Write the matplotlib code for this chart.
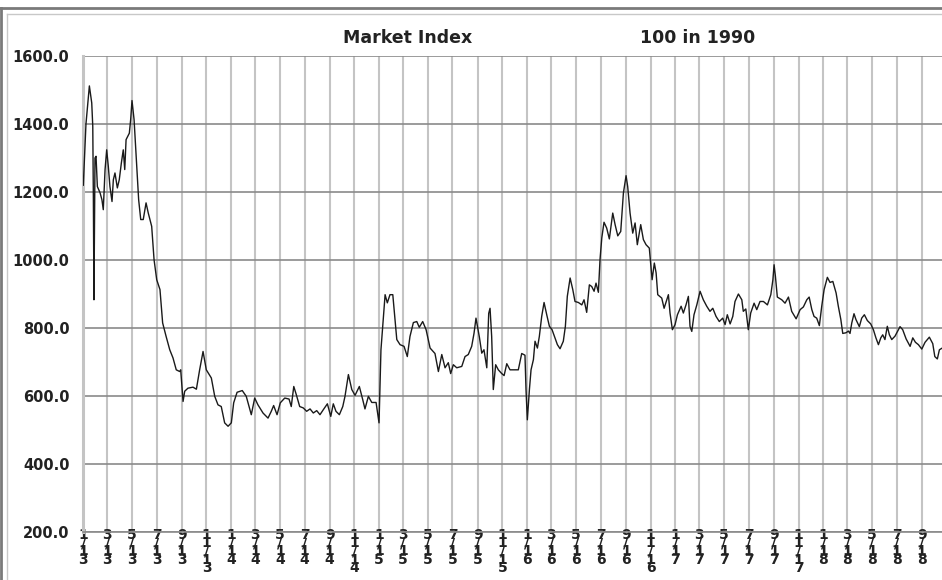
import numpy as np
import pandas as pd
import matplotlib
matplotlib.use("Agg")
import matplotlib.pyplot as plt
import matplotlib.dates as mdates
from matplotlib.lines import Line2D
from matplotlib.ticker import FormatStrFormatter

# time in years since 1 Jan 2013, index level
YEARS = [
    0.000, 0.018, 0.041, 0.057, 0.064, 0.068, 0.072, 0.079, 0.086, 0.095,
    0.113, 0.126, 0.135, 0.147, 0.158, 0.169, 0.180, 0.194, 0.203, 0.214,
    0.230, 0.243, 0.257, 0.270, 0.280, 0.289, 0.311, 0.320, 0.329, 0.343,
    0.361, 0.374, 0.388, 0.405, 0.424, 0.439, 0.462, 0.478, 0.496, 0.518,
    0.536, 0.559, 0.584, 0.606, 0.628, 0.651, 0.658, 0.674, 0.685, 0.707,
    0.741, 0.764, 0.786, 0.809, 0.831, 0.865, 0.888, 0.910, 0.932, 0.955,
    0.978, 1.000, 1.016, 1.039, 1.074, 1.101, 1.135, 1.158, 1.180, 1.214,
    1.248, 1.270, 1.286, 1.309, 1.331, 1.361, 1.390, 1.405, 1.422, 1.439,
    1.462, 1.486, 1.509, 1.532, 1.554, 1.577, 1.599, 1.622, 1.649, 1.672,
    1.689, 1.707, 1.730, 1.753, 1.768, 1.791, 1.814, 1.836, 1.865, 1.888,
    1.903, 1.926, 1.949, 1.978, 1.998, 2.011, 2.023, 2.039, 2.054, 2.072,
    2.091, 2.118, 2.140, 2.167, 2.189, 2.207, 2.230, 2.253, 2.270, 2.293,
    2.316, 2.343, 2.376, 2.399, 2.422, 2.444, 2.466, 2.482, 2.500, 2.523,
    2.557, 2.579, 2.601, 2.624, 2.640, 2.653, 2.676, 2.692, 2.707, 2.726,
    2.739, 2.748, 2.759, 2.770, 2.786, 2.804, 2.827, 2.843, 2.861, 2.883,
    2.910, 2.939, 2.962, 2.984, 2.991, 3.000, 3.014, 3.025, 3.041, 3.052,
    3.068, 3.081, 3.097, 3.113, 3.131, 3.149, 3.167, 3.187, 3.203, 3.221,
    3.243, 3.257, 3.270, 3.289, 3.307, 3.322, 3.345, 3.368, 3.383, 3.401,
    3.419, 3.435, 3.451, 3.464, 3.480, 3.491, 3.503, 3.518, 3.536, 3.554,
    3.577, 3.593, 3.611, 3.631, 3.649, 3.667, 3.678, 3.694, 3.712, 3.728,
    3.743, 3.766, 3.784, 3.802, 3.824, 3.843, 3.858, 3.870, 3.881, 3.908,
    3.924, 3.953, 3.964, 3.980, 3.998, 4.014, 4.039, 4.054, 4.072, 4.088,
    4.099, 4.111, 4.126, 4.145, 4.167, 4.189, 4.212, 4.234, 4.253, 4.275,
    4.297, 4.320, 4.336, 4.351, 4.370, 4.388, 4.403, 4.426, 4.449, 4.459,
    4.476, 4.493, 4.509, 4.532, 4.550, 4.572, 4.595, 4.622, 4.645, 4.659,
    4.667, 4.676, 4.689, 4.719, 4.741, 4.764, 4.786, 4.816, 4.843, 4.865,
    4.888, 4.904, 4.922, 4.937, 4.955, 4.973, 4.989, 5.005, 5.027, 5.045,
    5.064, 5.086, 5.101, 5.118, 5.131, 5.153, 5.169, 5.180, 5.192, 5.207,
    5.220, 5.243, 5.259, 5.277, 5.297, 5.320, 5.338, 5.355, 5.372, 5.388,
    5.401, 5.416, 5.432, 5.446, 5.462, 5.484, 5.518, 5.536, 5.559, 5.586,
    5.604, 5.622, 5.642, 5.665, 5.687, 5.716, 5.739, 5.753, 5.770, 5.784,
    5.803,
]
INDEX = [
    1220, 1400, 1512, 1462, 1393, 1180, 883, 1300, 1305, 1216,
    1198, 1177, 1148, 1266, 1324, 1275, 1216, 1172, 1236, 1256,
    1212, 1236, 1285, 1324, 1266, 1354, 1373, 1413, 1469, 1413,
    1275, 1177, 1119, 1119, 1168, 1138, 1099, 1001, 942, 913,
    815, 776, 736, 712, 677, 672, 677, 584, 614, 623,
    626, 620, 677, 731, 677, 653, 599, 574, 569, 521,
    511, 521, 580, 611, 616, 599, 545, 594, 574, 550,
    535, 555, 572, 545, 580, 594, 591, 569, 628, 604,
    569, 565, 555, 562, 550, 557, 545, 560, 577, 540,
    577, 555, 545, 569, 599, 663, 619, 602, 628, 589,
    562, 599, 581, 581, 521, 736, 805, 898, 874, 898,
    898, 766, 751, 746, 716, 775, 816, 819, 802, 819,
    795, 741, 725, 672, 722, 683, 698, 666, 692, 683,
    687, 716, 722, 746, 785, 829, 773, 726, 736, 683,
    843, 858, 775, 619, 692, 677, 666, 660, 695, 677,
    677, 677, 725, 720, 619, 530, 619, 677, 707, 761,
    741, 775, 834, 875, 839, 805, 795, 771, 751, 739,
    761, 805, 893, 947, 913, 878, 875, 868, 883, 846,
    927, 922, 908, 932, 905, 1001, 1065, 1111, 1094, 1062,
    1138, 1104, 1071, 1084, 1197, 1248, 1216, 1138, 1079, 1109,
    1045, 1104, 1060, 1045, 1035, 942, 991, 962, 898, 888,
    858, 898, 844, 795, 810, 839, 864, 844, 868, 893,
    805, 790, 839, 868, 908, 883, 864, 849, 858, 834,
    819, 829, 810, 839, 812, 834, 878, 900, 883, 849,
    856, 795, 844, 873, 854, 878, 878, 868, 898, 942,
    986, 952, 891, 883, 873, 891, 849, 827, 854, 862,
    883, 891, 854, 834, 829, 807, 864, 913, 949, 934,
    937, 903, 864, 825, 784, 786, 791, 784, 815, 842,
    825, 804, 829, 839, 822, 812, 795, 771, 751, 771,
    780, 766, 805, 780, 766, 776, 804, 795, 768, 746,
    771, 758, 751, 738, 758, 773, 754, 716, 709, 736,
    741,
]

TICK_LABELS = [
    "1/13", "3/13", "5/13", "7/13", "9/13", "11/13",
    "1/14", "3/14", "5/14", "7/14", "9/14", "11/14",
    "1/15", "3/15", "5/15", "7/15", "9/15", "11/15",
    "1/16", "3/16", "5/16", "7/16", "9/16", "11/16",
    "1/17", "3/17", "5/17", "7/17", "9/17", "11/17",
    "1/18", "3/18", "5/18", "7/18", "9/18",
]
TICK_DATES = pd.date_range("2013-01-01", "2018-09-01", freq="2MS")

START = pd.Timestamp("2013-01-01")
dates = START + pd.to_timedelta(np.array(YEARS) * 365.25, unit="D")

FONT = "DejaVu Sans"

fig = plt.figure(figsize=(9.42, 5.8), dpi=100)
ax = fig.add_axes([83.3 / 942, 1 - 532 / 580, 1 - 83.3 / 942, (532 - 56) / 580])

ax.plot(dates, INDEX, color="#1a1a1a", linewidth=1.0, zorder=3)

ax.set_ylim(200, 1600)
ax.set_yticks(np.arange(200, 1601, 200))
ax.yaxis.set_major_formatter(FormatStrFormatter("%.1f"))
ax.set_xlim(START, pd.Timestamp("2018-10-21"))
ax.set_xticks(mdates.date2num(TICK_DATES))
ax.set_xticklabels(["\n".join(s) for s in TICK_LABELS], linespacing=0.48)

ax.tick_params(axis="both", length=0)
ax.tick_params(axis="y", pad=10)
ax.tick_params(axis="x", pad=-3)
for lab in ax.get_yticklabels():
    lab.set_fontfamily(FONT)
    lab.set_fontweight("bold")
    lab.set_fontsize(10.5)
    lab.set_color("#222222")
for lab in ax.get_xticklabels():
    lab.set_fontfamily(FONT)
    lab.set_fontweight("bold")
    lab.set_fontsize(10)
    lab.set_color("#222222")

ax.grid(True, axis="x", color="#c4c4c4", linewidth=1.5, zorder=1)
ax.grid(True, axis="y", color="#8a8a8a", linewidth=1.2, zorder=1)
ax.set_axisbelow(True)
for side in ["top", "right"]:
    ax.spines[side].set_visible(False)
ax.spines["left"].set_color("#c4c4c4")
ax.spines["left"].set_linewidth(2.2)
ax.spines["bottom"].set_color("#8a8a8a")
ax.spines["bottom"].set_linewidth(1.2)
ax.spines["bottom"].set_zorder(4)

fig.text(408 / 942, 1 - 38 / 580, "Market Index", ha="center", va="center",
         fontsize=12.5, fontweight="bold", family=FONT, color="#222222")
fig.text(698 / 942, 1 - 38 / 580, "100 in 1990", ha="center", va="center",
         fontsize=12.5, fontweight="bold", family=FONT, color="#222222")

# window-like frame round the chart
fig.add_artist(Line2D([0, 1], [1 - 8 / 580] * 2, color="#7a7a7a", linewidth=2.0,
                      transform=fig.transFigure))
fig.add_artist(Line2D([1 / 942] * 2, [0, 1 - 8 / 580], color="#7a7a7a", linewidth=2.0,
                      transform=fig.transFigure))
fig.add_artist(Line2D([6.5 / 942, 1], [1 - 13.5 / 580] * 2, color="#c8c8c8", linewidth=1.0,
                      transform=fig.transFigure))
fig.add_artist(Line2D([6.5 / 942] * 2, [0, 1 - 13.5 / 580], color="#c8c8c8", linewidth=1.0,
                      transform=fig.transFigure))

fig.savefig("out.png", dpi=100, facecolor="white")
